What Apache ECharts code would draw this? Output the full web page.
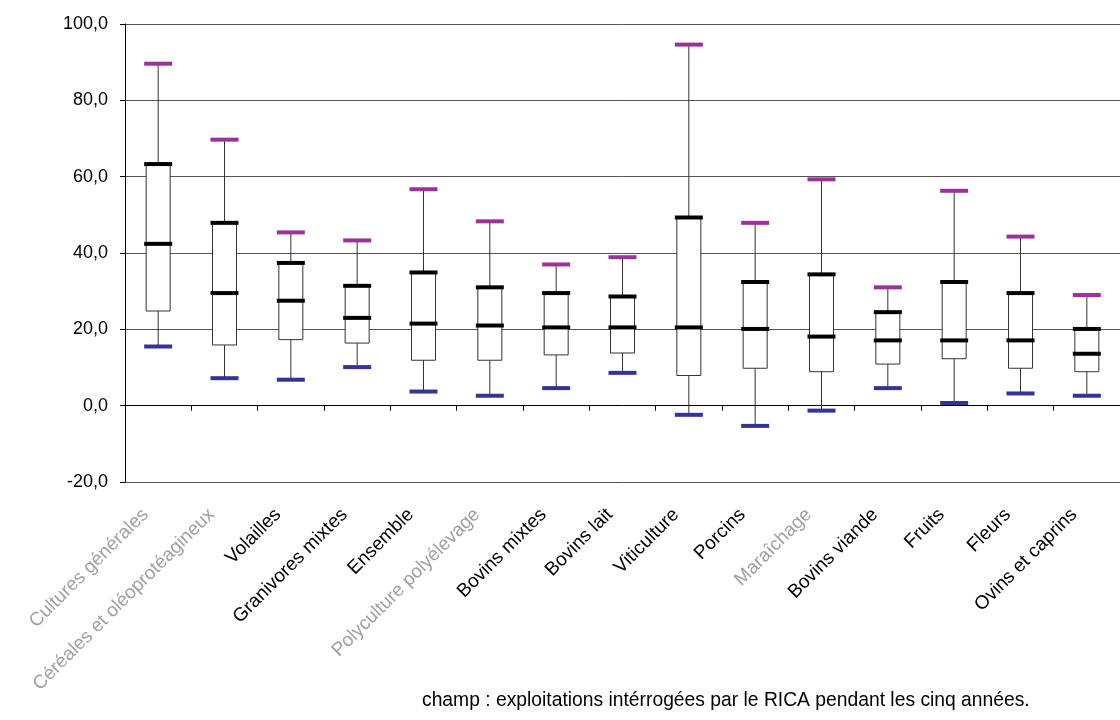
<!DOCTYPE html>
<html>
<head>
<meta charset="utf-8">
<script src="https://cdn.jsdelivr.net/npm/echarts@6/dist/echarts.min.js"></script>
<style>html,body{margin:0;padding:0;background:#fff;}#c{width:1120px;height:720px;}</style>
</head>
<body>
<div id="c"></div>
<script>
var categories = ["Cultures générales", "Céréales et oléoprotéagineux", "Volailles", "Granivores mixtes", "Ensemble", "Polyculture polyélevage", "Bovins mixtes", "Bovins lait", "Viticulture", "Porcins", "Maraîchage", "Bovins viande", "Fruits", "Fleurs", "Ovins et caprins"];
var maxVals = [89.6, 69.7, 45.4, 43.3, 56.7, 48.3, 37.0, 38.9, 94.6, 47.9, 59.3, 31.0, 56.3, 44.3, 29.0];
var q3Vals  = [63.3, 47.9, 37.4, 31.4, 34.9, 31.0, 29.5, 28.6, 49.3, 32.4, 34.4, 24.5, 32.4, 29.5, 20.1];
var medVals = [42.4, 29.5, 27.5, 23.0, 21.5, 21.0, 20.5, 20.5, 20.5, 20.1, 18.1, 17.1, 17.1, 17.1, 13.6];
var q1Vals  = [24.8, 15.9, 17.3, 16.4, 11.9, 11.9, 13.3, 13.8, 7.9, 9.8, 8.9, 10.9, 12.3, 9.8, 8.9];
var minVals = [15.5, 7.2, 6.8, 10.1, 3.7, 2.6, 4.6, 8.6, -2.4, -5.3, -1.3, 4.6, 0.7, 3.2, 2.6];
var yTicks = { min: -20, max: 100, interval: 20 };
var footnote = "champ : exploitations intérrogées par le RICA pendant les cinq années.";
var fadedLabels = ["Cultures générales", "Céréales et oléoprotéagineux", "Polyculture polyélevage", "Maraîchage"];

var boxData = categories.map(function (c, i) {
  return [minVals[i], q1Vals[i], medVals[i], q3Vals[i], maxVals[i]];
});

var font = "'Liberation Sans', Arial, sans-serif";
var chart = echarts.init(document.getElementById('c'), null, { renderer: 'canvas' });
function marker(name, data, color) {
  return {
    name: name, type: 'scatter', data: data, symbol: 'rect', symbolSize: [28, 4],
    itemStyle: { color: color, opacity: 1 }, z: 5, silent: true
  };
}
chart.setOption({
  animation: false,
  backgroundColor: '#fff',
  grid: { left: 125, right: 0, top: 24, bottom: 238 },
  xAxis: {
    type: 'category', data: categories, boundaryGap: true,
    axisLine: { lineStyle: { color: '#000', width: 1 } },
    axisTick: { show: true, length: 5, lineStyle: { color: '#000' } },
    axisLabel: {
      interval: 0, rotate: 45, margin: 17, fontSize: 19, color: '#000', fontFamily: font,
      padding: [0, 18, 0, 0],
      formatter: function (v) { return fadedLabels.indexOf(v) >= 0 ? '{g|' + v + '}' : v; },
      rich: { g: { color: '#a0a0a0', fontSize: 19, fontFamily: font } }
    },
    splitLine: { show: false }
  },
  yAxis: {
    type: 'value', min: yTicks.min, max: yTicks.max, interval: yTicks.interval,
    axisLine: { show: true, lineStyle: { color: '#000', width: 1 } },
    axisTick: { show: true, length: 5, lineStyle: { color: '#000' } },
    axisLabel: {
      fontSize: 18, color: '#000', fontFamily: font, margin: 17,
      formatter: function (v) { return v.toFixed(1).replace('.', ','); }
    },
    splitLine: { show: true, lineStyle: { color: '#555', width: 1 } }
  },
  series: [
    {
      type: 'boxplot', data: boxData, boxWidth: [24, 24], silent: true,
      itemStyle: { color: '#fff', borderColor: '#333', borderWidth: 1 }, z: 3
    },
    marker('max', maxVals, '#993399'),
    marker('min', minVals, '#333399'),
    marker('q3', q3Vals, '#000'),
    marker('median', medVals, '#000')
  ],
  graphic: [{
    type: 'text', left: 422, top: 691,
    style: { text: footnote, fontSize: 19.3, fill: '#000', fontFamily: font }
  }]
});
</script>
</body>
</html>
